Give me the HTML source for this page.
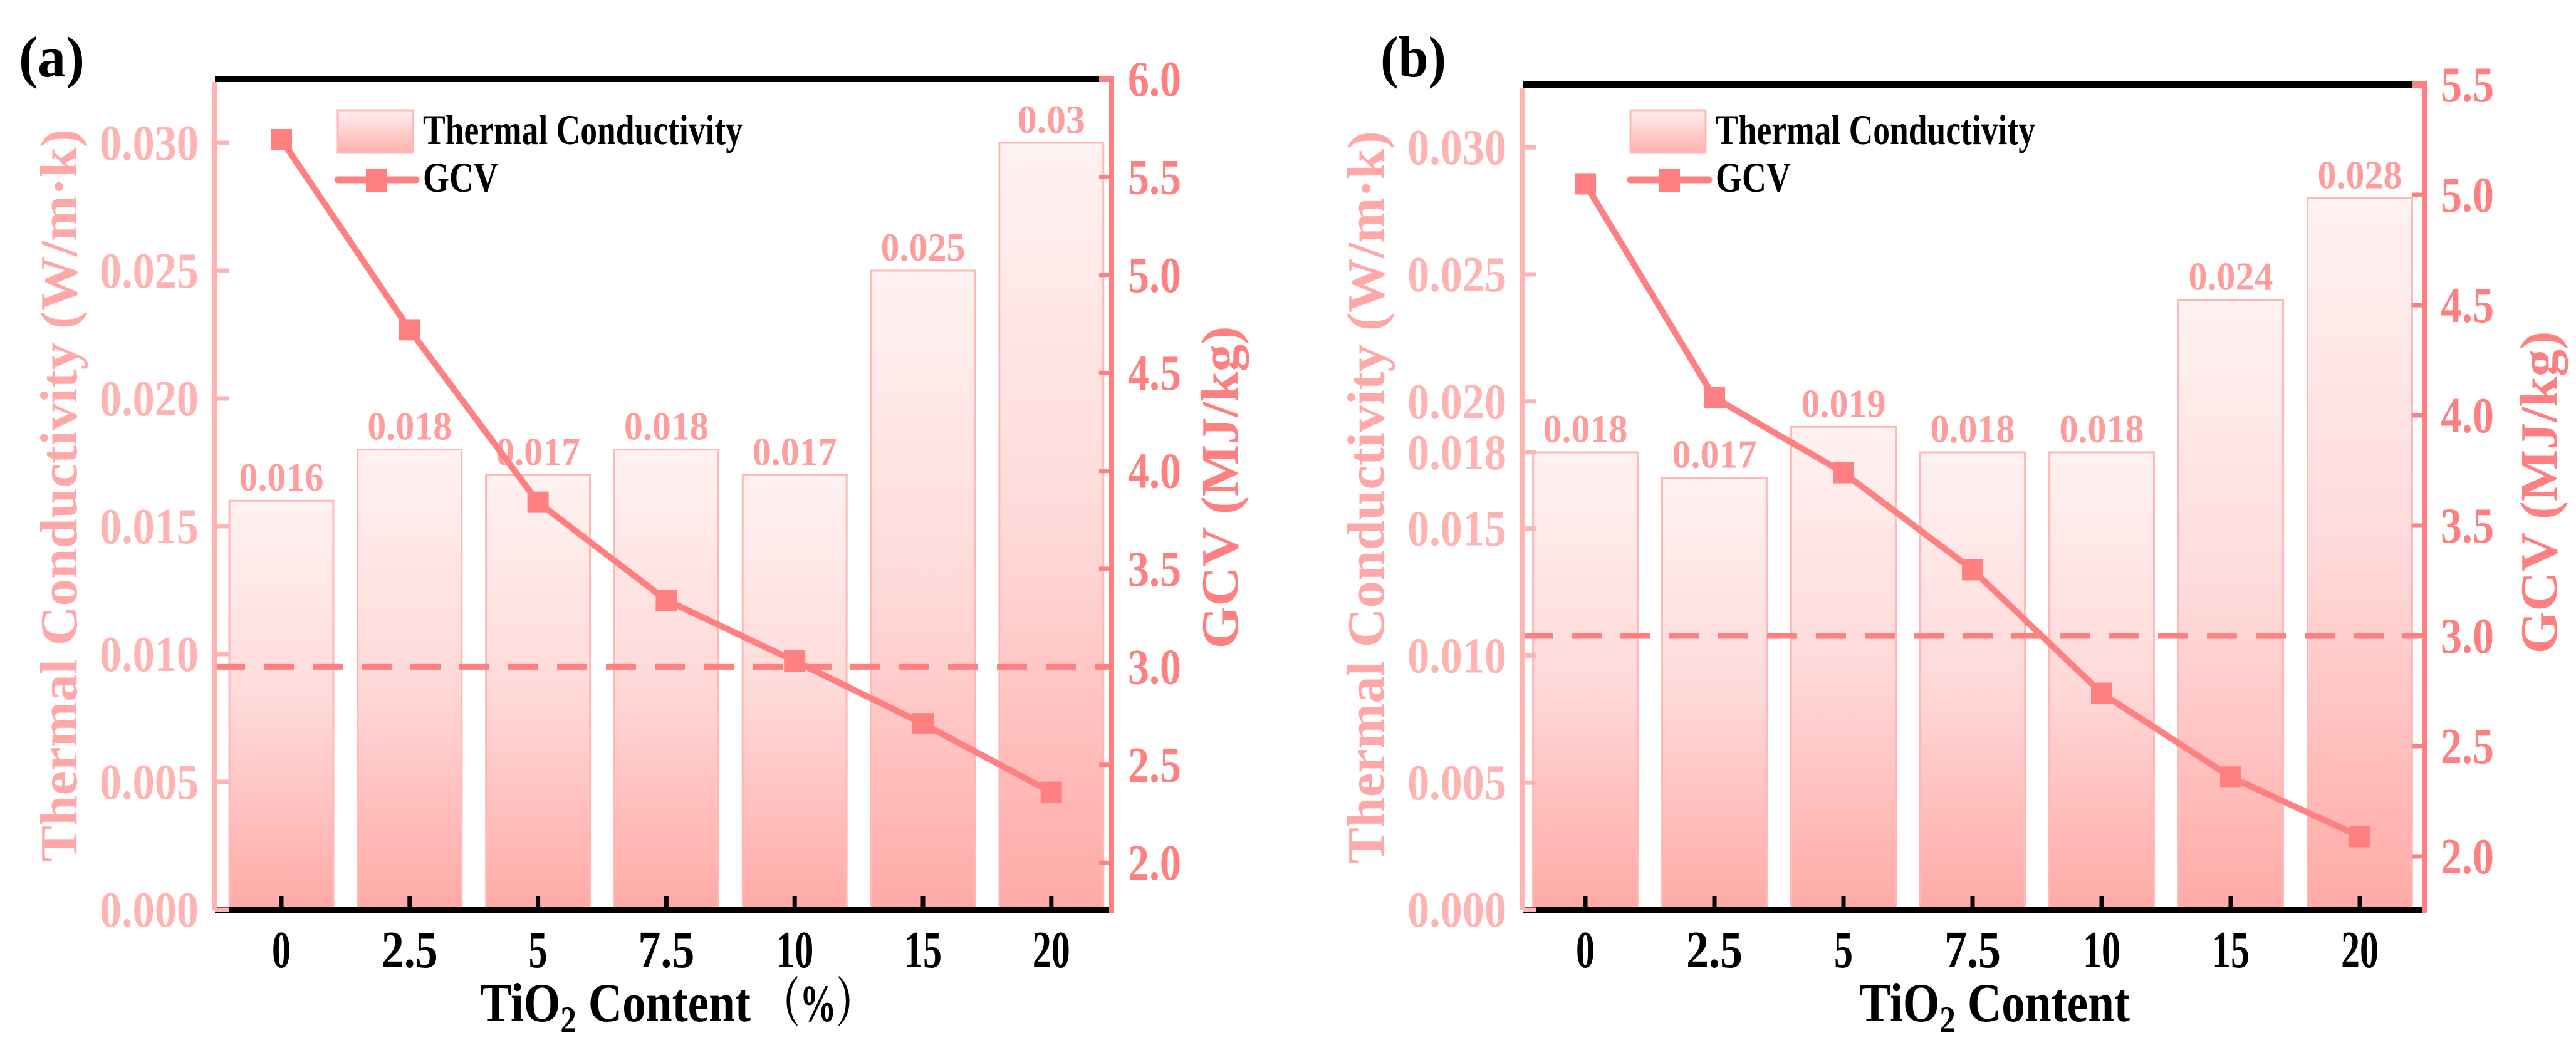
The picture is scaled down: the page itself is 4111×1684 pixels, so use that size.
<!DOCTYPE html>
<html><head><meta charset="utf-8"><style>
html,body{margin:0;padding:0;background:#fff;}
svg{display:block;}
text{font-family:"Liberation Serif","DejaVu Serif","Noto Serif CJK SC",serif;font-weight:bold;}
</style></head><body>
<svg id="fig" width="4111" height="1684" viewBox="0 0 4111 1684" xmlns="http://www.w3.org/2000/svg">
<defs>
<linearGradient id="barGrad" x1="0" y1="0" x2="0" y2="1">
<stop offset="0" stop-color="#fff2f2"/><stop offset="0.5" stop-color="#ffd9d9"/><stop offset="1" stop-color="#ffaaa6"/>
</linearGradient>
<linearGradient id="barGradL" x1="0" y1="0" x2="0" y2="1">
<stop offset="0" stop-color="#fff0f0"/><stop offset="1" stop-color="#ffb0ac"/>
</linearGradient>
</defs>
<g id="panelA"></g>
<g id="panelB"></g>
</svg>
<script>
const categories = ["0","2.5","5","7.5","10","15","20"];
const conductivityA = [0.016,0.018,0.017,0.018,0.017,0.025,0.03];
const conductivityLabelsA = ["0.016","0.018","0.017","0.018","0.017","0.025","0.03"];
const gcvA = [5.69,4.72,3.84,3.34,3.03,2.71,2.36];
const conductivityB = [0.018,0.017,0.019,0.018,0.018,0.024,0.028];
const conductivityLabelsB = ["0.018","0.017","0.019","0.018","0.018","0.024","0.028"];
const gcvB = [5.05,4.08,3.74,3.30,2.74,2.36,2.09];
const leftTicks = [0,0.005,0.010,0.015,0.020,0.025,0.030];
const leftTickLabels = ["0.000","0.005","0.010","0.015","0.020","0.025","0.030"];
const extraLeftTicksB = [0.018];
const extraLeftTickLabelsB = ["0.018"];
const rightTicksA = [2.0,2.5,3.0,3.5,4.0,4.5,5.0,5.5,6.0];
const rightTicksB = [2.0,2.5,3.0,3.5,4.0,4.5,5.0,5.5];
const thresholdGCV = 3.0;

const NS="http://www.w3.org/2000/svg";
const LEFTC="#ffb4b4", RIGHTC="#ff8080", LABC="#ff9c9c", LTITLE="#ffa8a8";
const FF='"Liberation Serif","DejaVu Serif","Noto Serif CJK SC",serif';
function mk(parent,tag,attrs,text){const e=document.createElementNS(NS,tag);for(const k in attrs)e.setAttribute(k,attrs[k]);if(text!==undefined)e.textContent=text;if(tag==='text'){e.style.fontFamily=FF;e.style.fontWeight='bold';}parent.appendChild(e);return e;}

function drawPanel(g, o){
  const yL=v=>o.y0-(v/0.005)*o.l5;
  const yR=v=>o.top+(o.rMax-v)/0.5*o.r5;
  const x=i=>o.x0+i*o.dx;
  const bw=o.dx*0.81;
  o.bars.forEach((v,i)=>{
    const r=mk(g,'rect',{x:x(i)-bw/2,y:yL(v),width:bw,height:o.y0-yL(v),fill:'url(#barGrad)',stroke:'#ffb8b8','stroke-width':3});
    
    
    const t=mk(g,'text',{x:x(i),y:yL(v)-16,'text-anchor':'middle','font-size':64,fill:LABC,textLength:o.barLabels[i].length*27,lengthAdjust:'spacingAndGlyphs'},o.barLabels[i]);
    
    
  });
  const d=mk(g,'line',{x1:o.left,x2:o.right,y1:yR(thresholdGCV),y2:yR(thresholdGCV),stroke:RIGHTC,'stroke-width':9,'stroke-dasharray':'48 30'});
  
  
  const pts=o.gcv.map((v,i)=>x(i)+','+yR(v)).join(' ');
  const pl=mk(g,'polyline',{points:pts,fill:'none',stroke:RIGHTC,'stroke-width':10,'stroke-linejoin':'round'});
  
  
  o.gcv.forEach((v,i)=>{
    const m=mk(g,'rect',{x:x(i)-17,y:yR(v)-17,width:34,height:34,fill:RIGHTC});
    
    
  });
  const ta=mk(g,'line',{x1:o.left,x2:o.right,y1:o.top,y2:o.top,stroke:'#000','stroke-width':10});
  
  const ba=mk(g,'line',{x1:o.left,x2:o.right,y1:o.y0,y2:o.y0,stroke:'#000','stroke-width':10});
  
  const la=mk(g,'line',{x1:o.left,x2:o.left,y1:o.top+5,y2:o.y0,stroke:LEFTC,'stroke-width':8});
  
  const ra=mk(g,'line',{x1:o.right,x2:o.right,y1:o.top-5,y2:o.y0+5,stroke:RIGHTC,'stroke-width':8});
  
  mk(g,'line',{x1:o.right-20,x2:o.right,y1:o.top,y2:o.top,stroke:RIGHTC,'stroke-width':10});
  categories.forEach((c,i)=>{
    mk(g,'line',{x1:x(i),x2:x(i),y1:o.y0,y2:o.y0-22,stroke:'#000','stroke-width':7});
    const t=mk(g,'text',{x:x(i),y:o.y0+92,'text-anchor':'middle','font-size':84,fill:'#000',textLength:c.length*30,lengthAdjust:'spacingAndGlyphs'},c);
    
  });
  const lt=leftTicks.concat(o.extraL||[]), ll=leftTickLabels.concat(o.extraLL||[]);
  lt.forEach((v,i)=>{
    mk(g,'line',{x1:o.left,x2:o.left+22,y1:yL(v),y2:yL(v),stroke:LEFTC,'stroke-width':7});
    const t=mk(g,'text',{x:o.left-26,y:yL(v)+27,'text-anchor':'end','font-size':80,fill:LEFTC,textLength:158,lengthAdjust:'spacingAndGlyphs'},ll[i]);
    
  });
  o.rTicks.forEach(v=>{
    mk(g,'line',{x1:o.right,x2:o.right-20,y1:yR(v),y2:yR(v),stroke:RIGHTC,'stroke-width':7});
    const t=mk(g,'text',{x:o.right+26,y:yR(v)+27,'font-size':80,fill:RIGHTC,textLength:85,lengthAdjust:'spacingAndGlyphs'},v.toFixed(1));
    
  });
  const lt2=mk(g,'text',{x:0,y:0,'text-anchor':'middle','font-size':84,fill:LTITLE,transform:`translate(${o.lTitleX},${o.lTitleY}) rotate(-90)`,textLength:1170,lengthAdjust:'spacingAndGlyphs'},'Thermal Conductivity (W/m·k)');
  
  const rt=mk(g,'text',{x:0,y:0,'text-anchor':'middle','font-size':84,fill:RIGHTC,transform:`translate(${o.rTitleX},${o.rTitleY}) rotate(-90)`,textLength:515,lengthAdjust:'spacingAndGlyphs'},'GCV (MJ/kg)');
  
  const xt=mk(g,'text',{x:o.xTitleX,y:1630,'font-size':88,fill:'#000',textLength:432,lengthAdjust:'spacingAndGlyphs'});
  
  mk(xt,'tspan',{},'TiO');
  mk(xt,'tspan',{dy:18,'font-size':60},'2');
  mk(xt,'tspan',{dy:-18},' Content');
  if(o.pct){const p=mk(g,'text',{x:o.xTitleX+452,y:1630,'font-size':84,fill:'#000',textLength:175,lengthAdjust:'spacingAndGlyphs'},'（%）');}
  const pl2=mk(g,'text',{x:o.panelX,y:122,'font-size':92,fill:'#000',textLength:105,lengthAdjust:'spacingAndGlyphs'},o.panelLabel);
  
  const lg=mk(g,'g',{});
  
  mk(lg,'rect',{x:o.legX,y:176,width:120,height:68,fill:'url(#barGradL)',stroke:'#ffb8b8','stroke-width':3});
  mk(lg,'text',{x:o.legX+136,y:230,'font-size':68,fill:'#000',textLength:510,lengthAdjust:'spacingAndGlyphs'},'Thermal Conductivity');
  mk(lg,'line',{x1:o.legX,x2:o.legX+125,y1:287,y2:287,stroke:RIGHTC,'stroke-width':11,'stroke-linecap':'round'});
  mk(lg,'rect',{x:o.legX+45,y:270,width:34,height:36,fill:RIGHTC});
  mk(lg,'text',{x:o.legX+136,y:306,'font-size':68,fill:'#000',textLength:120,lengthAdjust:'spacingAndGlyphs'},'GCV');
}

drawPanel(document.getElementById('panelA'),{
  left:343,right:1774,top:126,y0:1452,x0:449,dx:204.8,l5:204,r5:156.4,rMax:6.0,
  bars:conductivityA,barLabels:conductivityLabelsA,gcv:gcvA,rTicks:rightTicksA,
  lTitleX:122,lTitleY:791,rTitleX:1975,rTitleY:778,xTitleX:766,pct:true,
  panelX:30,panelLabel:'(a)',legX:539
});
drawPanel(document.getElementById('panelB'),{
  left:2430,right:3869,top:135,y0:1452,x0:2530,dx:206,l5:202.8,r5:176,rMax:5.5,
  bars:conductivityB,barLabels:conductivityLabelsB,gcv:gcvB,rTicks:rightTicksB,
  extraL:extraLeftTicksB,extraLL:extraLeftTickLabelsB,
  lTitleX:2208,lTitleY:794,rTitleX:4080,rTitleY:786,xTitleX:2967,pct:false,
  panelX:2203,panelLabel:'(b)',legX:2602
});
</script>
</body></html>
